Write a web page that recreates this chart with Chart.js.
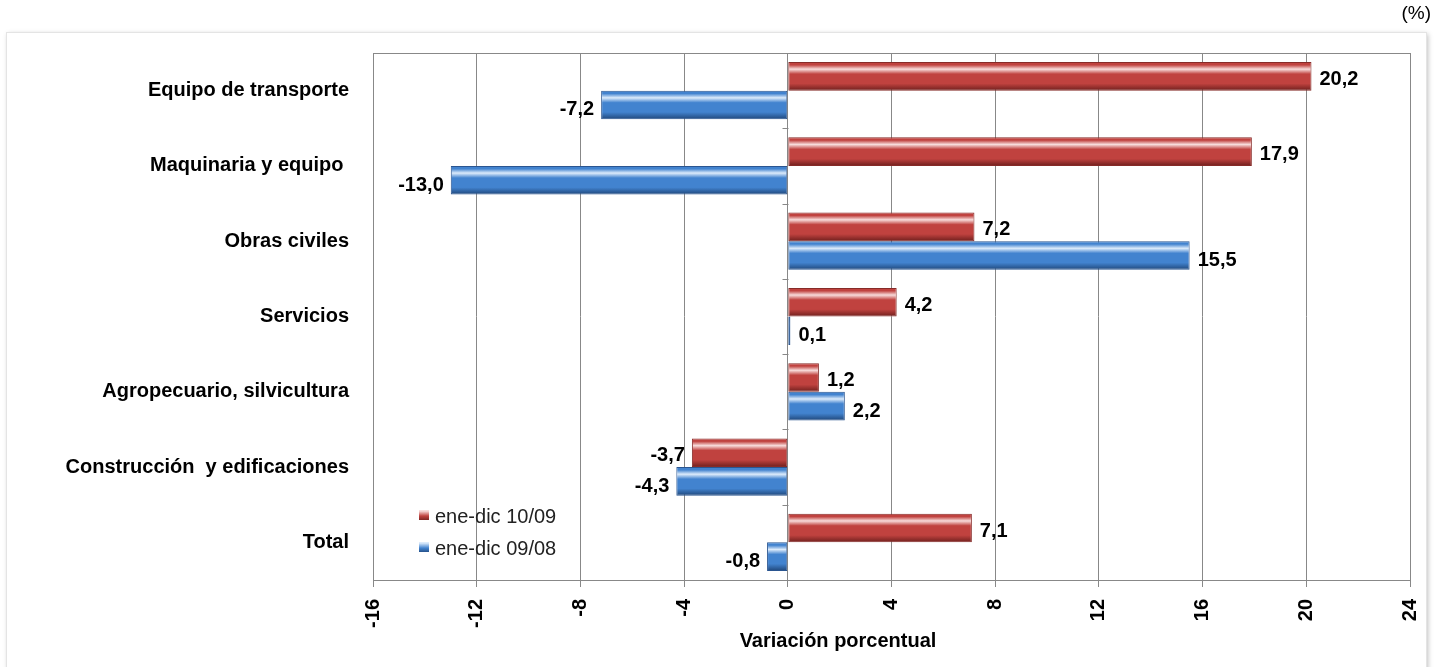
<!DOCTYPE html>
<html>
<head>
<meta charset="utf-8">
<script src="https://cdn.jsdelivr.net/npm/chart.js@4"></script>
<style>
  html, body { margin: 0; padding: 0; background: #fff; }
  #wrap { position: relative; width: 1435px; height: 667px; }
</style>
</head>
<body>
<div id="wrap"><canvas id="grafico"></canvas></div>
<script>
const categorias = ['Equipo de transporte', 'Maquinaria y equipo ', 'Obras civiles', 'Servicios',
  'Agropecuario, silvicultura', 'Construcción  y edificaciones', 'Total'];
const serie1009 = [20.2, 17.9, 7.2, 4.2, 1.2, -3.7, 7.1];
const serie0908 = [-7.2, -13.0, 15.5, 0.1, 2.2, -4.3, -0.8];
const nombres = ['ene-dic 10/09', 'ene-dic 09/08'];
const ejeMin = -16, ejeMax = 24, paso = 4;
const tituloX = 'Variación porcentual';

const fuente = "'Liberation Sans', Arial, sans-serif";
const CAT = 0.76;
const rojo = { base: '#c0423f', claro: '#f8dcdb', osc: '#6e1f1d', borde: '#862b28' };
const azul = { base: '#4283cf', claro: '#dcebfb', osc: '#1f4679', borde: '#2a5590' };

// gradiente vertical para simular el efecto 3D de las barras
function relleno(c, ds) {
  return ctx => {
    const chart = ctx.chart, ys = chart.scales.y;
    if (ctx.type !== 'data' || !ys || ys.top == null) return c.base;
    const band = (ys.bottom - ys.top) / categorias.length;
    const h = band * CAT / 2;
    const top = ys.getPixelForValue(ctx.dataIndex) - band * CAT / 2 + ds * h;
    const g = chart.ctx.createLinearGradient(0, top, 0, top + h);
    g.addColorStop(0, c.base);
    g.addColorStop(0.1, c.base);
    g.addColorStop(0.25, c.claro);
    g.addColorStop(0.42, c.base);
    g.addColorStop(0.75, c.base);
    g.addColorStop(1, c.osc);
    return g;
  };
}

const marco = {
  id: 'marco',
  beforeDraw(chart) {
    const ctx = chart.ctx;
    ctx.save();
    ctx.fillStyle = '#fff';
    ctx.fillRect(0, 0, chart.width, chart.height);
    ctx.shadowColor = 'rgba(0,0,0,0.25)';
    ctx.shadowBlur = 5;
    ctx.shadowOffsetX = 2;
    ctx.shadowOffsetY = 2;
    ctx.fillRect(6, 32, 1420, 640);
    ctx.shadowColor = 'transparent';
    ctx.strokeStyle = '#e4e4e4';
    ctx.lineWidth = 1;
    ctx.strokeRect(6.5, 32.5, 1420, 640);
    ctx.fillStyle = '#000';
    ctx.font = '19px ' + fuente;
    ctx.textAlign = 'right';
    ctx.textBaseline = 'middle';
    ctx.fillText('(%)', 1431, 14);
    ctx.restore();
  },
  afterDatasetsDraw(chart) {
    const ctx = chart.ctx, a = chart.chartArea;
    ctx.save();
    ctx.strokeStyle = '#888';
    ctx.lineWidth = 1;
    ctx.strokeRect(Math.round(a.left) + 0.5, Math.round(a.top) + 0.5, Math.round(a.right - a.left), Math.round(a.bottom - a.top));
    // marcas del eje de categorías sobre el cero
    const x0 = Math.round(chart.scales.x.getPixelForValue(0)) + 0.5;
    const band = (a.bottom - a.top) / categorias.length;
    ctx.beginPath();
    for (let i = 1; i < categorias.length; i++) {
      const y = Math.round(a.top + band * i) + 0.5;
      ctx.moveTo(x0 - 6, y); ctx.lineTo(x0, y);
    }
    ctx.stroke();
    // etiquetas de valores
    ctx.fillStyle = '#000';
    ctx.font = 'bold 20px ' + fuente;
    ctx.textBaseline = 'middle';
    chart.data.datasets.forEach((ds, di) => {
      chart.getDatasetMeta(di).data.forEach((el, i) => {
        const v = ds.data[i];
        const txt = v.toFixed(1).replace('.', ',');
        const dy = di === 0 ? 3 : 5;
        if (v >= 0) { ctx.textAlign = 'left'; ctx.fillText(txt, el.x + 8, el.y + dy); }
        else { ctx.textAlign = 'right'; ctx.fillText(txt, el.x - 7, el.y + dy); }
      });
    });
    // título del eje x (algo desplazado a la izquierda, como en el original)
    ctx.textAlign = 'center';
    ctx.fillText(tituloX, 838, 641);
    // leyenda dentro del área
    const cols = [rojo, azul];
    ctx.font = '20px ' + fuente;
    ctx.textAlign = 'left';
    chart.data.datasets.forEach((ds, di) => {
      const y = 516 + di * 32;
      const c = cols[di];
      const g = ctx.createLinearGradient(0, y - 5, 0, y + 5);
      g.addColorStop(0, c.claro); g.addColorStop(0.5, c.base); g.addColorStop(1, c.osc);
      ctx.fillStyle = g;
      ctx.fillRect(419, y - 6, 10, 10);
      ctx.fillStyle = '#222';
      ctx.fillText(ds.label, 435, y + 1);
    });
    ctx.restore();
  }
};

new Chart(document.getElementById('grafico'), {
  type: 'bar',
  data: {
    labels: categorias,
    datasets: [{
      label: nombres[0],
      data: serie1009,
      backgroundColor: relleno(rojo, 0),
      borderColor: rojo.borde,
      borderWidth: 1,
      borderSkipped: false
    }, {
      label: nombres[1],
      data: serie0908,
      backgroundColor: relleno(azul, 1),
      borderColor: azul.borde,
      borderWidth: 1,
      borderSkipped: false
    }]
  },
  plugins: [marco],
  options: {
    indexAxis: 'y',
    responsive: true,
    maintainAspectRatio: false,
    animation: false,
    datasets: { bar: { categoryPercentage: CAT, barPercentage: 1 } },
    layout: { padding: { top: 53, right: 25, left: 0, bottom: 0 } },
    plugins: {
      legend: { display: false },
      tooltip: { enabled: false }
    },
    scales: {
      x: {
        min: ejeMin,
        max: ejeMax,
        afterFit: s => { s.height = 87; s.paddingLeft = 0; s.paddingRight = 0; },
        ticks: {
          stepSize: paso,
          minRotation: 90,
          maxRotation: 90,
          padding: 12,
          color: '#000',
          font: { family: fuente, size: 20, weight: 'bold' }
        },
        grid: { color: '#888', tickLength: 7, tickColor: '#888' },
        border: { display: false }
      },
      y: {
        afterFit: s => { s.width = 373; },
        ticks: {
          color: '#000',
          padding: 16,
          font: { family: fuente, size: 20, weight: 'bold' }
        },
        grid: { display: false },
        border: { display: false }
      }
    }
  }
});
</script>
</body>
</html>
